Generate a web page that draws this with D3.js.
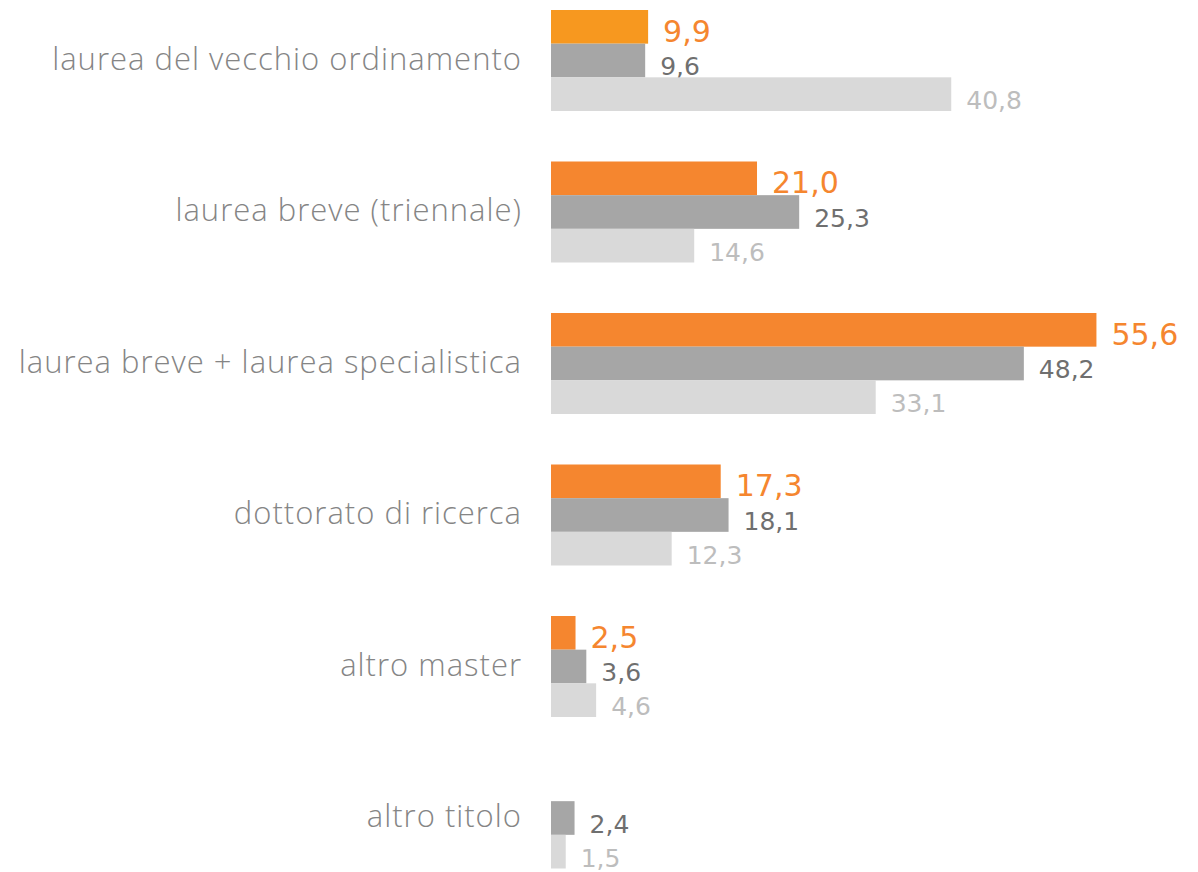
<!DOCTYPE html>
<html>
<head>
<meta charset="utf-8">
<script src="https://cdn.jsdelivr.net/npm/d3@7"></script>
<style>
  body { margin: 0; background: #fff; }
  .cat { font-family: "Open Sans", Roboto, sans-serif; font-weight: 300; fill: #858585; letter-spacing: 1px; }
  .val { font-family: "DejaVu Sans", sans-serif; }
</style>
</head>
<body>
<div id="chart"></div>
<script>
// categories (top to bottom)
var categories = ["laurea del vecchio ordinamento", "laurea breve (triennale)",
  "laurea breve + laurea specialistica", "dottorato di ricerca", "altro master", "altro titolo"];
// three series, one value per category (null = no bar)
var serieA = [9.9, 21.0, 55.6, 17.3, 2.5, null];
var serieB = [9.6, 25.3, 48.2, 18.1, 3.6, 2.4];
var serieC = [40.8, 14.6, 33.1, 12.3, 4.6, 1.5];
var seriesNames = ["A", "B", "C"];

var width = 1198, height = 872;
var barColors = ["#f5862f", "#a6a6a6", "#d9d9d9"];
var textColors = ["#f5862f", "#6f6f6f", "#bdbdbd"];
var textSizes = [30, 25, 25];

var svg = d3.select("#chart").append("svg")
  .attr("width", width).attr("height", height);

var yScale = d3.scaleBand()
  .domain(categories)
  .range([10, 868.5])
  .paddingInner(1/3).paddingOuter(0);

var ySub = d3.scaleBand()
  .domain(seriesNames)
  .range([0, yScale.bandwidth()]);

var xScale = d3.scaleLinear()
  .domain([0, 60])
  .range([551, 551 + 60 * 9.81]);

var fmt = function(v) { return d3.format(".1f")(v).replace(".", ","); };

var rows = categories.map(function(c, i) {
  return { cat: c, vals: [serieA[i], serieB[i], serieC[i]] };
});

var groups = svg.selectAll("g.grp")
  .data(rows)
  .enter().append("g")
  .attr("class", "grp")
  .attr("transform", function(d) { return "translate(0," + yScale(d.cat) + ")"; });

groups.append("text")
  .attr("class", "cat")
  .attr("x", 522)
  .attr("y", yScale.bandwidth() / 2 + 9)
  .attr("text-anchor", "end")
  .style("font-size", "31px")
  .text(function(d) { return d.cat; });

var items = groups.selectAll("g.item")
  .data(function(d) {
    return d.vals.map(function(v, j) { return { v: v, s: seriesNames[j], j: j, first: d.cat === categories[0] }; })
      .filter(function(e) { return e.v != null; });
  })
  .enter().append("g").attr("class", "item");

items.append("rect")
  .attr("x", xScale(0))
  .attr("y", function(d) { return ySub(d.s); })
  .attr("width", function(d) { return xScale(d.v) - xScale(0); })
  .attr("height", ySub.bandwidth())
  .attr("fill", function(d) { return (d.j === 0 && d.first) ? "#f7981f" : barColors[d.j]; });

items.append("text")
  .attr("class", "val")
  .attr("x", function(d) { return xScale(d.v) + 15; })
  .attr("y", function(d) { return ySub(d.s) + ySub.bandwidth() - 2; })
  .style("font-size", function(d) { return textSizes[d.j] + "px"; })
  .attr("fill", function(d) { return textColors[d.j]; })
  .text(function(d) { return fmt(d.v); });
</script>
</body>
</html>
